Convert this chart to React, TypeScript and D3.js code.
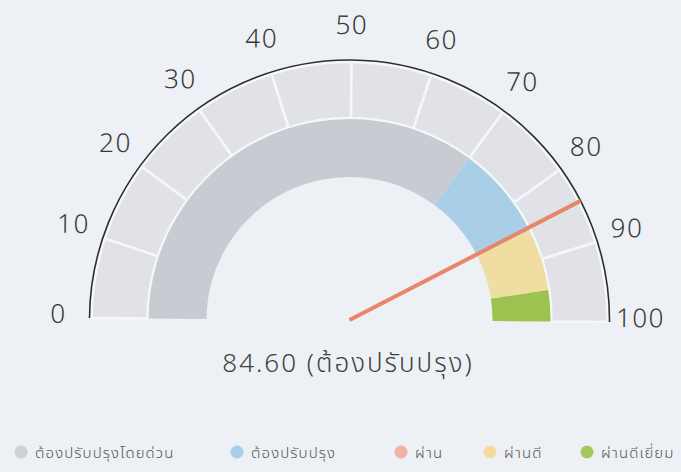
import React from "react";
import * as d3 from "d3";

const tickValues = [0, 10, 20, 30, 40, 50, 60, 70, 80, 90, 100];
const bandNames = ["ต้องปรับปรุงโดยด่วน", "ต้องปรับปรุง", "ผ่าน", "ผ่านดี", "ผ่านดีเยี่ยม"];
const bandFrom = [0, 70, 85, 85, 95];
const bandTo = [70, 85, 85, 95, 100];
const bandColors = ["#c8cbd1", "#a9cfe8", "#ec9a80", "#f0dda2", "#9cc350"];
const legendColors = ["#cdd0d5", "#a6cfec", "#f0b3a2", "#f3dba0", "#a4c85c"];
const legendX = [21, 237, 401, 490, 587];
const needleValue = 84.6;
const needleLabel = "84.60 (ต้องปรับปรุง)";

const W = 681;
const H = 472;
const cx = 349.5;
const cy = 320;
const rArc = 260;
const rLightOuter = 258;
const rLightInner = 202;
const rBandOuter = 201;
const rBandInner = 143;
const rLabel = 291;
const FONT = "'Noto Sans', 'Noto Sans Thai', 'Open Sans', sans-serif";

export default function App() {
  const angle = d3.scaleLinear().domain([0, 100]).range([-Math.PI / 2, Math.PI / 2]);
  const pt = (v: number, r: number) => {
    const a = angle(v);
    return [r * Math.sin(a), -r * Math.cos(a)];
  };
  const arc = d3.arc<any>();
  const segs = d3.range(tickValues.length - 1).map((i) => ({
    s: tickValues[i],
    e: tickValues[i + 1],
  }));
  const outerPath = arc({
    innerRadius: rArc,
    outerRadius: rArc,
    startAngle: angle(0),
    endAngle: angle(100),
  });
  const [nx, ny] = pt(needleValue, rArc);

  return (
    <svg
      width={W}
      height={H}
      style={{ position: "absolute", left: 0, top: 0, background: "#edf0f4" }}
      fontFamily={FONT}
      fontWeight={300}
    >
      <rect x={0} y={0} width={W} height={H} fill="#edf0f4" />
      <g transform={`translate(${cx},${cy}) rotate(0.45)`}>
        {segs.map((d, i) => (
          <path
            key={"seg" + i}
            d={
              arc({
                innerRadius: rLightInner,
                outerRadius: rLightOuter,
                startAngle: angle(d.s),
                endAngle: angle(d.e),
              }) as string
            }
            fill="#e0e2e8"
            stroke="#f6f7f9"
            strokeWidth={2.5}
          />
        ))}
        {bandNames.map((n, i) =>
          bandTo[i] > bandFrom[i] ? (
            <path
              key={"band" + i}
              d={
                arc({
                  innerRadius: rBandInner,
                  outerRadius: rBandOuter,
                  startAngle: angle(bandFrom[i]),
                  endAngle: angle(bandTo[i]),
                }) as string
              }
              fill={bandColors[i]}
            />
          ) : null
        )}
        <path d={outerPath as string} fill="none" stroke="#2e2e2e" strokeWidth={1.6} />
        {tickValues.map((v) => {
          const [x, y] = pt(v, rLabel);
          return (
            <text
              key={"t" + v}
              x={x}
              y={y - 5}
              textAnchor="middle"
              dominantBaseline="central"
              fontSize={26}
              letterSpacing={1.5}
              fill="#3a3a3a"
            >
              {v}
            </text>
          );
        })}
        <line x1={0} y1={0} x2={nx} y2={ny} stroke="#e8866a" strokeWidth={4} />
      </g>
      <text
        x={348}
        y={362}
        textAnchor="middle"
        dominantBaseline="central"
        fontSize={26}
        letterSpacing={2}
        fill="#3f3f3f"
      >
        {needleLabel}
      </text>
      {bandNames.map((n, i) => (
        <g key={"lg" + i} transform={`translate(${legendX[i]},452)`}>
          <circle r={6.5} fill={legendColors[i]} />
          <text x={14} y={0} dominantBaseline="central" fontSize={15} letterSpacing={1.1} fill="#555">
            {n}
          </text>
        </g>
      ))}
    </svg>
  );
}
